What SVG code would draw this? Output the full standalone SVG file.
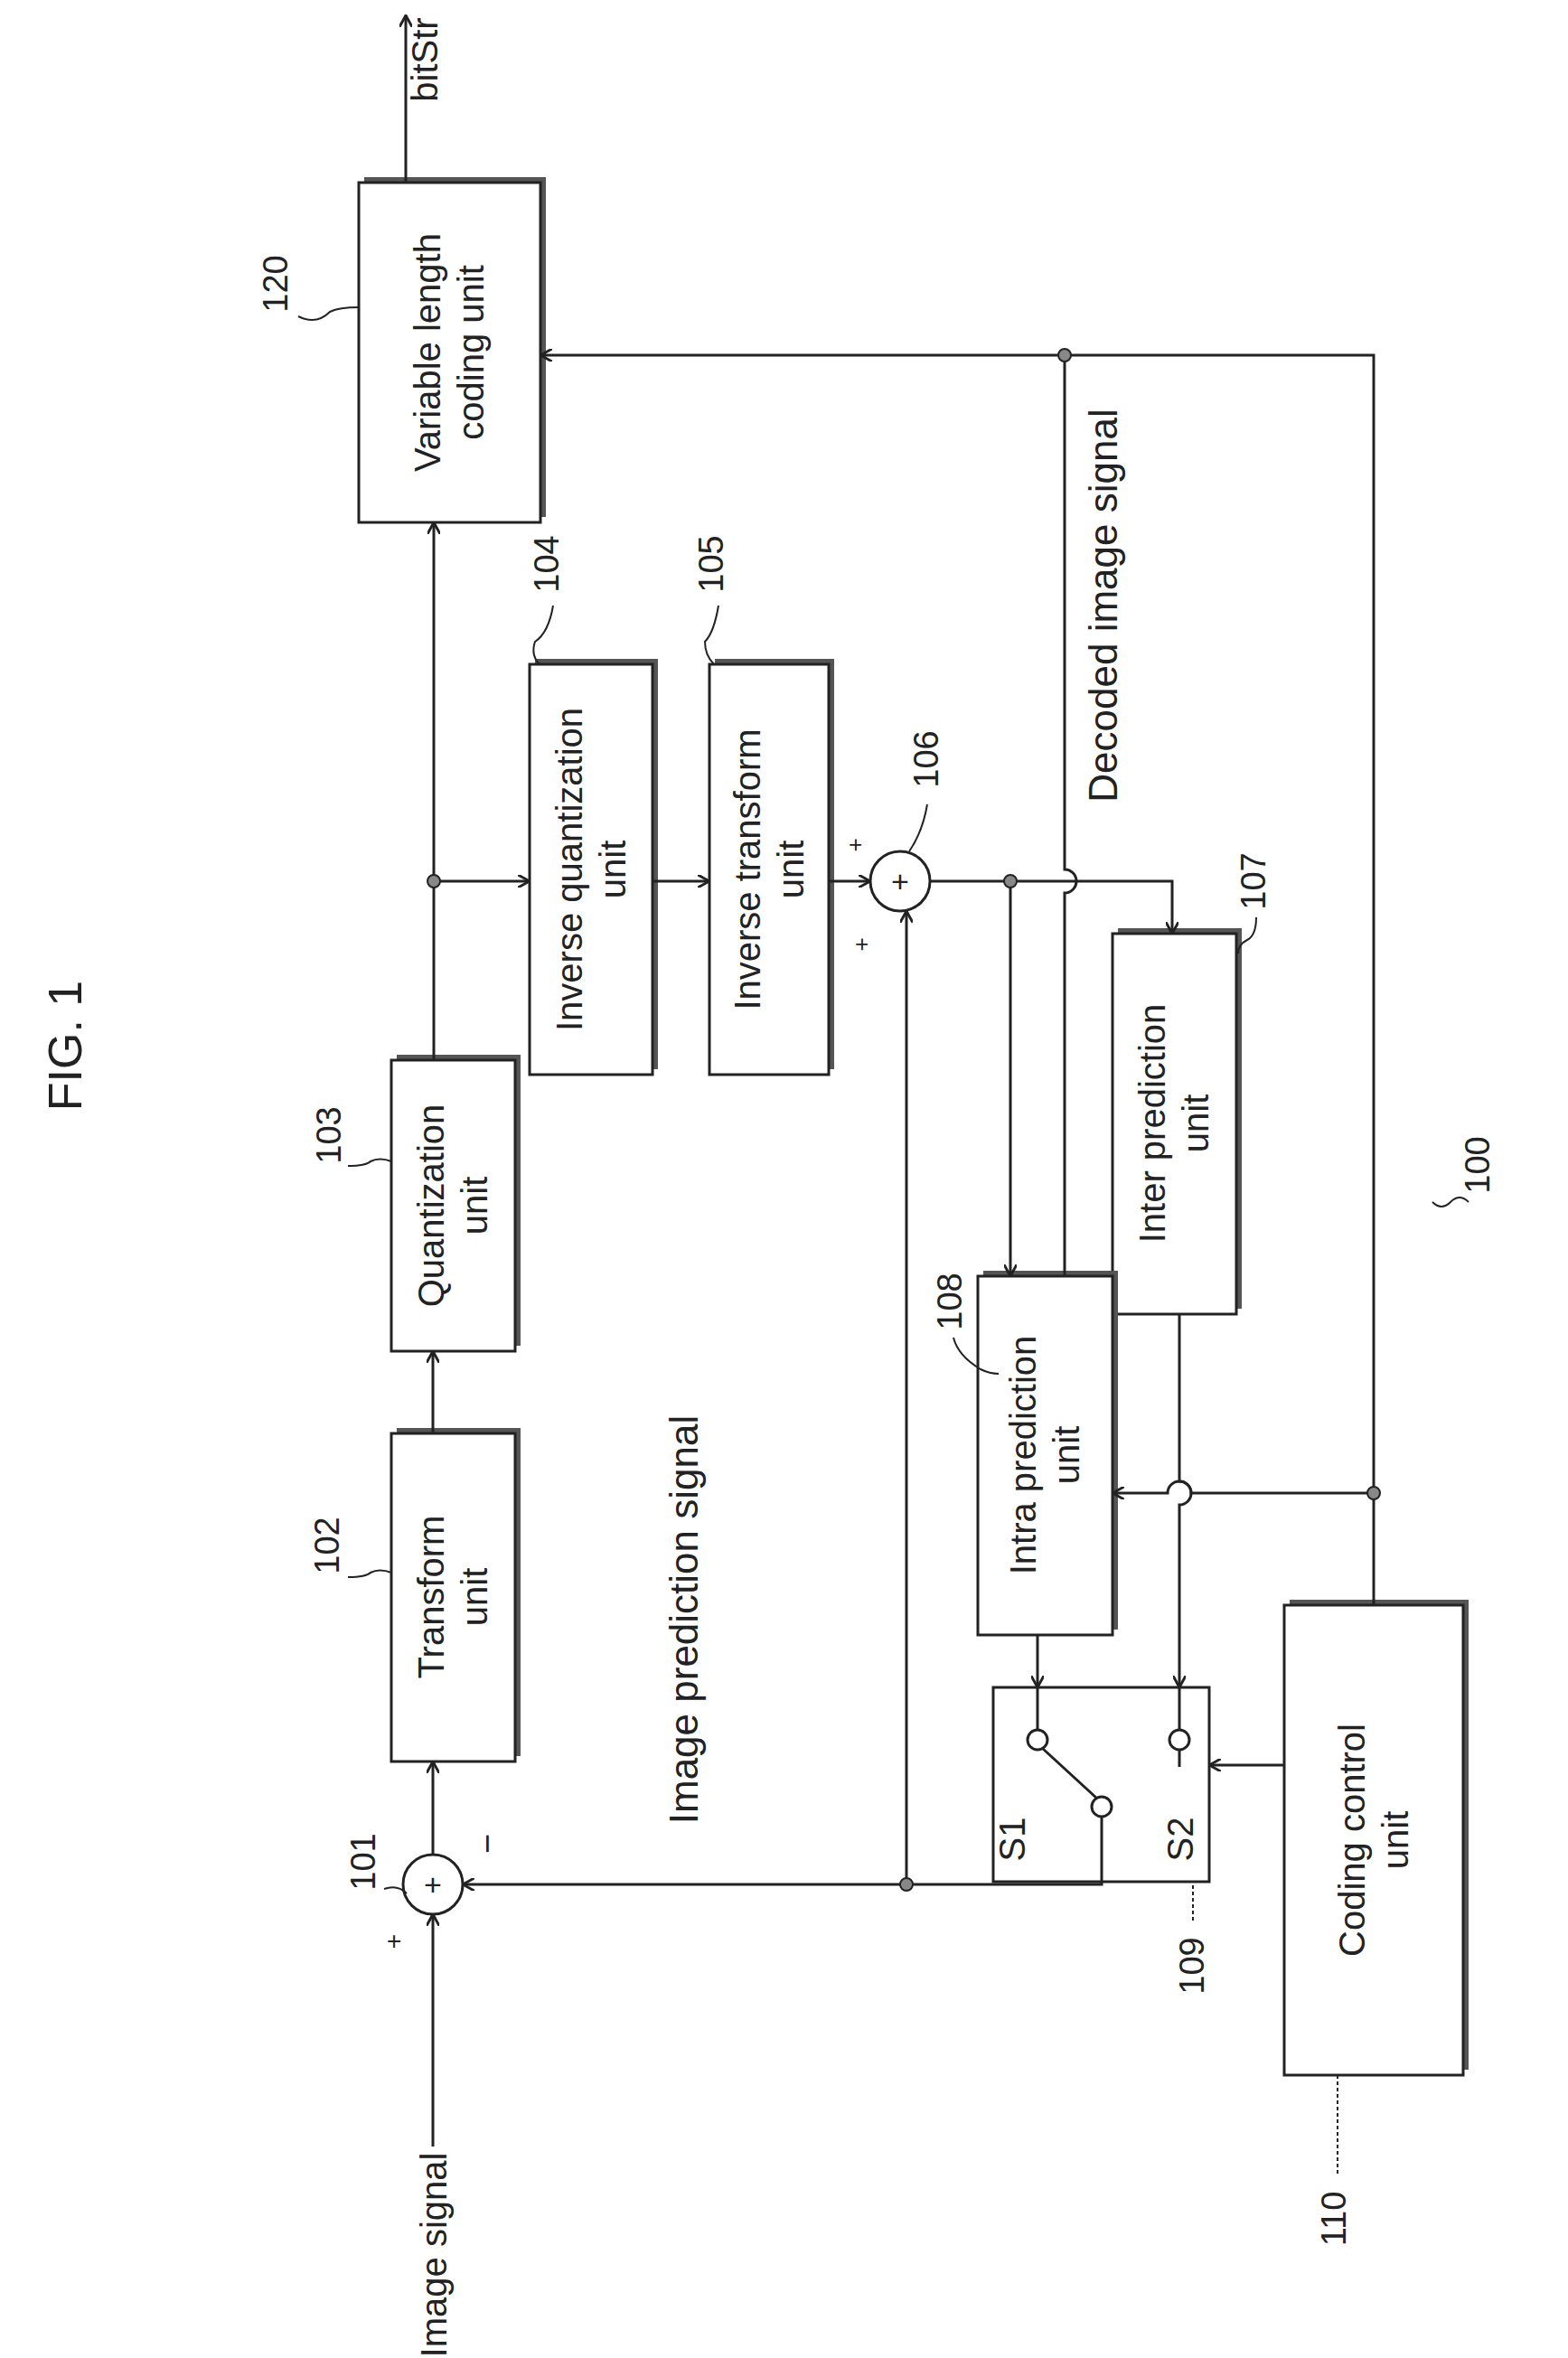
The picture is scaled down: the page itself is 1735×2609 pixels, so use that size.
<svg xmlns="http://www.w3.org/2000/svg" width="1735" height="2609" viewBox="0 0 1735 2609">
<style>
.b{fill:#fff;stroke:#222;stroke-width:3}
.sh{fill:#555}
.l{fill:none;stroke:#222;stroke-width:3}
.t{font-family:"Liberation Sans",Arial,sans-serif;font-size:40px;fill:#222;text-anchor:middle}
.n{font-family:"Liberation Sans",Arial,sans-serif;font-size:38px;fill:#222;text-anchor:middle}
.d{fill:#888;stroke:#222;stroke-width:2}
</style>
<defs>
<marker id="a" viewBox="0 0 12 12" refX="11" refY="6" markerWidth="14" markerHeight="14" markerUnits="userSpaceOnUse" orient="auto"><path d="M0,0 L11,6 L0,12" fill="none" stroke="#222" stroke-width="2.5"/></marker>
</defs>
<rect width="1735" height="2609" fill="#fff"/>
<text class="n" style="font-size:52px" transform="translate(90,1157) rotate(-90)">FIG. 1</text>

<g id="n120"><rect class="sh" x="403" y="196" width="201" height="376"/><rect class="b" x="397" y="202" width="201" height="376"/>
<text class="t" transform="translate(497,390) rotate(-90)"><tspan x="0" dy="-10">Variable length</tspan><tspan x="0" dy="48">coding unit</tspan></text>
<text class="n" transform="translate(318,314) rotate(-90)">120</text><path class="l" d="M330,350 q20,10 35,-5 q10,-5 32,-5" style="stroke-width:2"/></g>

<g id="n102"><rect class="sh" x="439" y="1580" width="137" height="363"/><rect class="b" x="433" y="1586" width="137" height="363"/>
<text class="t" transform="translate(501,1767) rotate(-90)"><tspan x="0" dy="-10">Transform</tspan><tspan x="0" dy="48">unit</tspan></text>
<text class="n" transform="translate(375,1710) rotate(-90)">102</text><path class="l" d="M385,1745 q20,0 25,-5 q10,-5 23,0" style="stroke-width:2"/></g>

<g id="n103"><rect class="sh" x="439" y="1167" width="137" height="322"/><rect class="b" x="433" y="1173" width="137" height="322"/>
<text class="t" transform="translate(501,1334) rotate(-90)"><tspan x="0" dy="-10">Quantization</tspan><tspan x="0" dy="48">unit</tspan></text>
<text class="n" transform="translate(377,1256) rotate(-90)">103</text><path class="l" d="M385,1290 q20,0 25,-5 q10,-5 23,0" style="stroke-width:2"/></g>

<g id="n104"><rect class="sh" x="592" y="729" width="136" height="454"/><rect class="b" x="586" y="735" width="136" height="454"/>
<text class="t" transform="translate(654,962) rotate(-90)"><tspan x="0" dy="-10">Inverse quantization</tspan><tspan x="0" dy="48">unit</tspan></text>
<text class="n" transform="translate(618,624) rotate(-90)">104</text><path class="l" d="M612,670 q-5,30 -20,40 q-5,15 5,25" style="stroke-width:2"/></g>

<g id="n105"><rect class="sh" x="791" y="729" width="132" height="454"/><rect class="b" x="785" y="735" width="132" height="454"/>
<text class="t" transform="translate(851,962) rotate(-90)"><tspan x="0" dy="-10">Inverse transform</tspan><tspan x="0" dy="48">unit</tspan></text>
<text class="n" transform="translate(800,624) rotate(-90)">105</text><path class="l" d="M795,670 q-5,30 -15,40 q0,15 10,25" style="stroke-width:2"/></g>

<g id="n101"><circle cx="479" cy="2085" r="33" class="b"/><text class="n" x="479" y="2097" style="font-size:34px">+</text>
<text class="n" transform="translate(415,2060) rotate(-90)">101</text><path class="l" d="M425,2090 q15,-5 25,5" style="stroke-width:2"/>
<text class="n" transform="translate(445,2148) rotate(-90)" style="font-size:28px">+</text><text class="n" transform="translate(552,2040) rotate(-90)">−</text></g>

<g id="n106"><circle cx="996" cy="975" r="33" class="b"/><text class="n" x="996" y="987" style="font-size:34px">+</text>
<text class="n" transform="translate(1038,840) rotate(-90)">106</text><path class="l" d="M1026,890 q-5,30 -20,52" style="stroke-width:2"/>
<text class="n" transform="translate(955,935) rotate(-90)" style="font-size:26px">+</text><text class="n" transform="translate(962,1045) rotate(-90)" style="font-size:26px">+</text></g>

<g id="n107"><rect class="sh" x="1237" y="1027" width="137" height="421"/><rect class="b" x="1231" y="1033" width="137" height="421"/>
<text class="t" transform="translate(1299,1243) rotate(-90)"><tspan x="0" dy="-10">Inter prediction</tspan><tspan x="0" dy="48">unit</tspan></text>
<text class="n" transform="translate(1400,975) rotate(-90)">107</text><path class="l" d="M1390,1015 q0,20 -10,25 q-10,5 -10,15" style="stroke-width:2"/></g>

<g id="n108"><rect class="sh" x="1088" y="1406" width="149" height="397"/><rect class="b" x="1082" y="1412" width="149" height="397"/>
<text class="t" transform="translate(1156,1610) rotate(-90)"><tspan x="0" dy="-10">Intra prediction</tspan><tspan x="0" dy="48">unit</tspan></text>
<text class="n" transform="translate(1064,1440) rotate(-90)">108</text><path class="l" d="M1055,1480 q5,20 30,35 q10,5 20,5" style="stroke-width:2"/></g>

<g id="n109"><rect class="b" x="1099" y="1867" width="239" height="215"/>
<text class="t" transform="translate(1134,2035) rotate(-90)">S1</text><text class="t" transform="translate(1320,2035) rotate(-90)">S2</text>
<circle cx="1148" cy="1925" r="11" class="b"/><circle cx="1219" cy="1999" r="11" class="b"/><circle cx="1305" cy="1925" r="11" class="b"/>
<path class="l" d="M1153,1934 L1214,1990 M1305,1936 V1955"/>
<text class="n" transform="translate(1332,2175) rotate(-90)">109</text><path class="l" d="M1320,2125 V2082" style="stroke-width:2;stroke-dasharray:4 3"/></g>

<g id="n110"><rect class="sh" x="1427" y="1770" width="198" height="520"/><rect class="b" x="1421" y="1776" width="198" height="520"/>
<text class="t" transform="translate(1520,2036) rotate(-90)"><tspan x="0" dy="-10">Coding control</tspan><tspan x="0" dy="48">unit</tspan></text>
<text class="n" transform="translate(1489,2455) rotate(-90)">110</text><path class="l" d="M1480,2405 V2296" style="stroke-width:2;stroke-dasharray:4 3"/></g>

<g id="labels">
<text class="t" transform="translate(494,2495) rotate(-90)">Image signal</text>
<text class="t" transform="translate(484,66) rotate(-90)">bitStr</text>
<text class="t" style="font-size:44px" transform="translate(772,1792) rotate(-90)">Image prediction signal</text>
<text class="t" style="font-size:44px" transform="translate(1236,670) rotate(-90)">Decoded image signal</text>
<text class="n" transform="translate(1648,1289) rotate(-90)">100</text><path class="l" d="M1625,1330 q-10,-10 -20,0 q-10,10 -20,0" style="stroke-width:2"/>
</g>

<g id="connectors">
<path class="l" d="M449,202 V17" marker-end="url(#a)"/>
<path class="l" d="M479,2375 V2118" marker-end="url(#a)"/>
<path class="l" d="M479,2052 V1949" marker-end="url(#a)"/>
<path class="l" d="M479,1586 V1495" marker-end="url(#a)"/>
<path class="l" d="M480,1173 V578" marker-end="url(#a)"/>
<path class="l" d="M480,975 H586" marker-end="url(#a)"/>
<path class="l" d="M722,975 H785" marker-end="url(#a)"/>
<path class="l" d="M917,975 H963" marker-end="url(#a)"/>
<path class="l" d="M1029,975 H1297 V1033" marker-end="url(#a)"/>
<path class="l" d="M1118,975 V1412" marker-end="url(#a)"/>
<path class="l" d="M1178,393 V962 a13,13 0 0 1 0,26 V1412"/>
<path class="l" d="M1003,2085 V1008" marker-end="url(#a)"/>
<path class="l" d="M1219,2010 V2085 H512" marker-end="url(#a)"/>
<path class="l" d="M1148,1809 V1867" marker-end="url(#a)"/>
<path class="l" d="M1148,1867 V1914"/>
<path class="l" d="M1305,1454 V1639 a13,13 0 0 1 0,26 V1867" marker-end="url(#a)"/>
<path class="l" d="M1305,1867 V1914"/>
<path class="l" d="M1520,1776 V393 H598" marker-end="url(#a)"/>
<path class="l" d="M1520,1652 H1318 a13,13 0 0 0 -26,0 H1231" marker-end="url(#a)"/>
<path class="l" d="M1421,1953 H1338" marker-end="url(#a)"/>
<circle class="d" cx="480" cy="975" r="7"/>
<circle class="d" cx="1118" cy="975" r="7"/>
<circle class="d" cx="1178" cy="393" r="7"/>
<circle class="d" cx="1003" cy="2085" r="7"/>
<circle class="d" cx="1520" cy="1652" r="7"/>
</g>
</svg>
